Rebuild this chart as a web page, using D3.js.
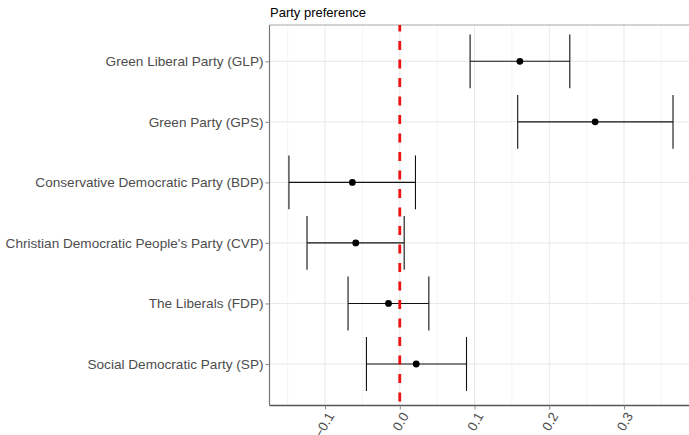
<!DOCTYPE html>
<html>
<head>
<meta charset="utf-8">
<script src="https://cdn.jsdelivr.net/npm/d3@7"></script>
<style>
  html, body { margin: 0; padding: 0; background: #fff; }
  svg { display: block; font-family: "Liberation Sans", Arial, sans-serif; }
</style>
</head>
<body>
<svg id="chart" width="689" height="435"></svg>
<script>
// ---- data ----
const parties = [
  "Green Liberal Party (GLP)",
  "Green Party (GPS)",
  "Conservative Democratic Party (BDP)",
  "Christian Democratic People's Party (CVP)",
  "The Liberals (FDP)",
  "Social Democratic Party (SP)"
];
const estimates = [0.1607, 0.2614, -0.0634, -0.0589, -0.0151, 0.0220];
const lowerCI   = [0.0941, 0.1578, -0.1483, -0.1241, -0.0692, -0.0446];
const upperCI   = [0.2275, 0.3656, 0.0210, 0.0059, 0.0389, 0.0893];
const xTicks = [-0.1, 0.0, 0.1, 0.2, 0.3];
const xMinor = [-0.15, -0.05, 0.05, 0.15, 0.25, 0.35];
const title = "Party preference";

const rows = parties.map((p, i) => ({party: p, est: estimates[i], lo: lowerCI[i], hi: upperCI[i]}));

// ---- layout ----
const pL = 269.5, pR = 689, pT = 25, pB = 405.5;
const svg = d3.select("#chart");

const x = d3.scaleLinear().domain([-0.1743, 0.3870]).range([pL, pR]);
const y = d3.scalePoint().domain(parties).range([pT, 400.3]).padding(0.6);
const step = y.step();

// grid
const g = svg.append("g");
g.selectAll("line.minor").data(xMinor).join("line")
  .attr("x1", d => x(d)).attr("x2", d => x(d))
  .attr("y1", pT).attr("y2", pB)
  .attr("stroke", "#f3f3f3").attr("stroke-width", 0.8);
g.selectAll("line.majorx").data(xTicks).join("line")
  .attr("x1", d => x(d)).attr("x2", d => x(d))
  .attr("y1", pT).attr("y2", pB)
  .attr("stroke", "#e8e8e8").attr("stroke-width", 1);
g.selectAll("line.majory").data(parties).join("line")
  .attr("x1", pL).attr("x2", pR)
  .attr("y1", d => y(d)).attr("y2", d => y(d))
  .attr("stroke", "#e8e8e8").attr("stroke-width", 1);

// top border
svg.append("line").attr("x1", pL).attr("x2", pR).attr("y1", pT).attr("y2", pT)
  .attr("stroke", "#a8a8a8").attr("stroke-width", 1.2);

// error bars
const eb = svg.append("g");
const capH = step * 0.445;
eb.selectAll("line.h").data(rows).join("line")
  .attr("x1", d => x(d.lo)).attr("x2", d => x(d.hi))
  .attr("y1", d => y(d.party)).attr("y2", d => y(d.party))
  .attr("stroke", "#111").attr("stroke-width", 1.1);
eb.selectAll("line.l").data(rows).join("line")
  .attr("x1", d => x(d.lo)).attr("x2", d => x(d.lo))
  .attr("y1", d => y(d.party) - capH).attr("y2", d => y(d.party) + capH)
  .attr("stroke", "#111").attr("stroke-width", 1.1);
eb.selectAll("line.r").data(rows).join("line")
  .attr("x1", d => x(d.hi)).attr("x2", d => x(d.hi))
  .attr("y1", d => y(d.party) - capH).attr("y2", d => y(d.party) + capH)
  .attr("stroke", "#111").attr("stroke-width", 1.1);

// zero line
svg.append("line")
  .attr("x1", x(0)).attr("x2", x(0)).attr("y1", pT).attr("y2", pB)
  .attr("stroke", "#ee1111").attr("stroke-width", 2.8)
  .attr("stroke-dasharray", "9,9.5").attr("stroke-dashoffset", 2.5);

// points
svg.append("g").selectAll("circle").data(rows).join("circle")
  .attr("cx", d => x(d.est)).attr("cy", d => y(d.party)).attr("r", 3.4)
  .attr("fill", "#000");

// axes
const xAxis = svg.append("g").attr("transform", `translate(0,${pB})`)
  .call(d3.axisBottom(x).tickValues(xTicks).tickFormat(d3.format(".1f")).tickSize(4).tickSizeOuter(0));
xAxis.select(".domain").attr("stroke", "#555").attr("stroke-width", 1.3)
  .attr("d", `M${pL},0H${pR}`);
xAxis.selectAll(".tick line").attr("stroke", "#888");
xAxis.selectAll(".tick text")
  .attr("fill", "#4d4d4d").attr("font-size", 13.4)
  .attr("text-anchor", "end")
  .attr("transform", "translate(5,8) rotate(-60)")
  .attr("x", 0).attr("y", 0).attr("dy", "0.35em");

const yAxis = svg.append("g").attr("transform", `translate(${pL},0)`)
  .call(d3.axisLeft(y).tickSize(4).tickSizeOuter(0).tickPadding(2));
yAxis.select(".domain").attr("stroke", "#777").attr("stroke-width", 1.2)
  .attr("d", `M0,${pT}V${pB}`);
yAxis.selectAll(".tick line").attr("stroke", "#888");
yAxis.selectAll(".tick text").attr("fill", "#4d4d4d").attr("font-size", 13.6);

// title
svg.append("text").attr("x", 270).attr("y", 17)
  .attr("font-size", 13).attr("fill", "#000").text(title);
</script>
</body>
</html>
